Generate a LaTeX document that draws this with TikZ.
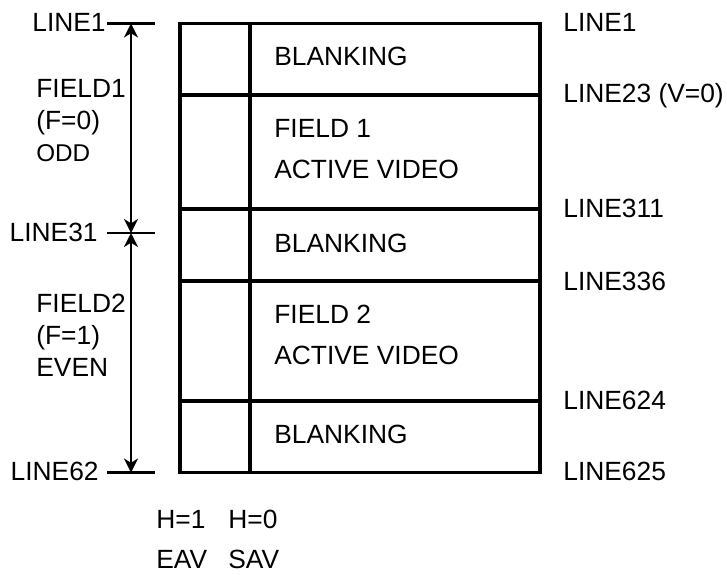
\documentclass[tikz,border=0pt]{standalone}
\usepackage{fontspec}
\setmainfont{Liberation Sans}
\usetikzlibrary{arrows.meta}

\begin{document}
\begin{tikzpicture}[
            lbl/.style={inner sep=0pt,anchor=base west,font=\fontsize{15}{17}\selectfont},
            lblr/.style={lbl,anchor=base east},
            sml/.style={lbl,font=\fontsize{13.8}{16}\selectfont},
            frame/.style={line width=2pt},
            tick/.style={line width=1.6pt},
            span/.style={{Stealth[length=8pt,width=8pt,inset=2.5pt]}-{Stealth[length=8pt,width=8pt,inset=2.5pt]},line width=1pt}]
            \useasboundingbox (0,0) rectangle (14.54,-11.48);

            % the frame, its column for EAV/SAV and the line bands
            \draw[frame] (3.60,-0.47) rectangle (10.80,-9.45);
            \draw[frame] (5.00,-0.47) -- (5.00,-9.45);
            \foreach \yy in {-1.90,-4.18,-5.62,-8.02}
            \draw[frame] (3.60,\yy) -- (10.80,\yy);

            \node[lbl] (blk1) at (5.48,-1.30) {BLANKING};
            \node[lbl] (fld1) at (5.48,-2.74) {FIELD 1};
            \node[lbl] (act1) at (5.48,-3.56) {ACTIVE VIDEO};
            \node[lbl] (blk2) at (5.48,-5.04) {BLANKING};
            \node[lbl] (fld2) at (5.48,-6.46) {FIELD 2};
            \node[lbl] (act2) at (5.48,-7.28) {ACTIVE VIDEO};
            \node[lbl] (blk3) at (5.48,-8.86) {BLANKING};

            % line numbers on the right
            \node[lbl] (r1)   at (11.26,-0.62) {LINE1};
            \node[lbl] (r23)  at (11.26,-2.04) {LINE23 (V=0)};
            \node[lbl] (r311) at (11.26,-4.34) {LINE311};
            \node[lbl] (r336) at (11.26,-5.80) {LINE336};
            \node[lbl] (r624) at (11.26,-8.18) {LINE624};
            \node[lbl] (r625) at (11.26,-9.60) {LINE625};

            % the two fields on the left
            \coordinate (t1a) at (2.14,-0.47);  \coordinate (t1b) at (3.10,-0.47);
            \coordinate (t31a) at (2.14,-4.66); \coordinate (t31b) at (3.10,-4.66);
            \coordinate (t62a) at (2.14,-9.45); \coordinate (t62b) at (3.10,-9.45);
            \draw[tick] (t1a) -- (t1b); \draw[tick] (t31a) -- (t31b); \draw[tick] (t62a) -- (t62b);
            \coordinate (a1) at (2.62,-0.47);
            \coordinate (a31) at (2.62,-4.66);
            \coordinate (a62) at (2.62,-9.45);
            \draw[span] (a1) -- (a31);
            \draw[span] (a31) -- (a62);

            \node[lblr] (l1)  at (2.12,-0.62) {LINE1};
            \node[lblr] (l31) at (1.96,-4.82) {LINE31};
            \node[lblr] (l62) at (1.98,-9.60) {LINE62};
            \node[lbl] (f1)  at (0.72,-1.94) {FIELD1};
            \node[lbl] (f1v) at (0.72,-2.58) {(F=0)};
            \node[sml] (odd) at (0.72,-3.22) {ODD};
            \node[lbl] (f2)  at (0.72,-6.24) {FIELD2};
            \node[lbl] (f2v) at (0.72,-6.88) {(F=1)};
            \node[lbl] (evn) at (0.72,-7.52) {EVEN};

            % timing codes under the first column
            \node[lbl] (h1)  at (3.12,-10.56) {H=1};
            \node[lbl] (h0)  at (4.56,-10.56) {H=0};
            \node[lbl] (eav) at (3.12,-11.36) {EAV};
            \node[lbl] (sav) at (4.56,-11.36) {SAV};
        \end{tikzpicture}
\end{document}
